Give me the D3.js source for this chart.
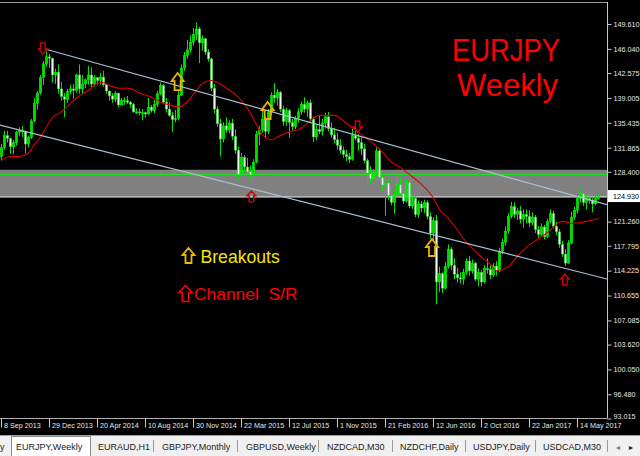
<!DOCTYPE html>
<html><head><meta charset="utf-8">
<script src="https://cdn.jsdelivr.net/npm/d3@7"></script>
<style>body{margin:0;background:#000;overflow:hidden}svg{display:block}</style>
</head><body><svg id="c" width="640" height="456"></svg>
<script>
// ---------- data (EURJPY weekly) ----------
const opens=[130.6,131.9,133.6,133.2,132.0,132.6,134.1,134.3,134.2,132.4,133.3,135.7,138.2,139.7,141.9,143.9,144.9,144.7,142.3,142.7,
140.3,139.2,138.8,139.9,140.3,140.1,142.3,140.3,141.0,141.6,142.3,141.0,141.9,141.5,142.0,140.9,140.0,139.3,138.8,139.7,
138.0,138.6,138.6,138.4,138.1,137.0,137.0,136.9,136.9,136.7,137.7,137.2,138.1,139.6,140.8,138.4,137.4,136.5,135.9,136.1,
139.4,143.3,145.1,145.9,147.0,148.1,148.9,146.9,147.5,145.6,144.6,140.4,137.4,135.3,133.1,135.0,134.4,135.4,133.5,131.5,
128.0,130.5,129.1,128.4,128.0,129.8,133.8,134.4,135.9,134.2,137.0,139.4,139.0,139.8,137.4,135.6,137.2,135.5,134.9,136.1,
137.0,138.1,137.4,138.3,136.0,133.4,134.5,134.2,135.4,136.3,134.6,133.7,133.0,132.2,131.5,130.9,130.6,130.2,133.6,133.2,
132.6,131.7,130.0,128.2,127.4,128.3,131.4,127.6,126.5,126.8,125.0,124.0,125.1,126.6,125.3,124.2,126.9,123.5,124.6,122.3,
123.8,123.2,124.0,122.0,119.6,121.4,112.6,113.8,111.7,114.8,117.3,115.0,113.7,113.2,113.0,114.0,115.6,114.2,115.3,113.0,
114.0,112.6,114.5,114.4,113.6,114.9,114.2,117.0,118.3,119.9,122.0,123.4,122.3,122.8,121.6,122.3,122.0,121.1,121.9,120.1,
119.4,120.5,119.1,121.3,122.4,120.6,119.8,118.0,116.6,115.3,118.2,121.9,122.9,124.6,125.3,124.0,124.6,124.3,123.8,124.6];
const highs=[132.4,134.3,134.3,133.3,133.0,134.3,134.8,135.0,134.3,133.6,136.0,139.0,140.0,142.3,144.3,145.7,145.3,144.8,143.2,143.8,
141.3,139.7,140.3,140.9,141.0,142.5,143.8,142.3,141.8,143.6,143.4,142.3,142.0,142.6,142.9,141.0,140.0,139.7,140.0,139.7,
139.0,139.1,139.3,138.6,138.3,137.5,137.5,137.4,137.0,139.0,138.0,138.7,140.0,141.2,141.0,139.0,138.4,137.0,137.3,140.2,
143.8,145.6,147.3,148.0,149.0,149.8,149.2,148.0,147.6,146.0,144.8,141.0,137.8,136.0,135.5,136.2,135.8,136.0,134.5,132.0,
131.1,130.8,130.4,129.3,130.2,134.3,135.0,137.2,136.3,137.4,139.8,141.1,140.3,140.0,137.9,137.6,137.4,136.0,136.4,137.5,
138.5,139.1,138.6,138.8,136.3,135.2,136.5,136.0,136.9,137.0,135.5,134.7,134.0,133.1,132.0,131.6,131.1,134.6,135.1,133.8,
133.5,132.4,130.3,129.2,128.8,131.9,131.8,128.2,127.0,127.4,126.5,125.7,128.2,127.6,126.3,127.3,127.1,125.0,125.6,124.3,
124.2,124.4,124.3,122.6,121.9,122.2,114.8,114.0,115.5,118.0,117.6,116.0,114.6,114.0,114.5,116.0,116.3,115.8,115.5,114.5,
114.3,115.0,116.0,115.0,115.3,115.6,117.5,118.8,120.6,122.5,124.1,124.0,123.2,123.5,123.0,123.0,122.9,122.6,122.2,120.6,
121.0,120.8,121.7,123.0,122.8,121.2,120.2,118.5,117.3,118.6,122.7,123.4,124.9,125.8,125.6,125.0,125.4,124.7,125.0,125.2];
const lows=[130.0,131.6,132.6,131.0,130.9,132.2,133.5,133.4,131.1,131.9,133.1,135.5,137.3,139.5,140.9,143.5,143.3,141.2,141.0,139.6,
138.6,136.2,138.3,139.5,138.9,139.7,139.6,139.6,140.4,140.9,140.4,140.6,140.9,140.9,140.6,139.6,138.6,138.3,138.4,137.7,
137.9,138.0,138.1,137.6,136.9,136.7,136.5,135.8,136.2,136.6,136.9,136.8,137.7,139.4,138.3,136.9,136.3,134.1,135.5,135.8,
139.3,142.9,144.6,145.5,146.5,147.3,144.0,145.8,145.2,144.2,140.0,136.8,134.9,130.6,132.6,134.0,133.9,133.0,131.0,127.3,
127.7,128.5,127.7,127.4,126.9,129.6,132.2,134.0,133.3,133.8,136.5,138.3,137.9,137.0,135.0,135.0,133.3,134.3,134.5,135.5,
136.6,136.9,136.3,135.6,132.7,133.0,133.8,133.6,134.6,134.2,133.3,132.5,131.6,131.0,130.4,129.9,129.7,130.0,132.9,131.4,
130.8,129.6,127.0,126.8,127.1,127.9,127.3,125.7,122.1,124.4,123.6,122.4,124.7,125.0,123.8,124.0,123.2,123.1,121.9,121.8,
122.6,122.5,121.6,118.8,118.5,109.4,111.2,111.0,111.5,114.5,114.3,113.0,112.5,112.4,112.2,113.6,113.5,113.8,112.7,112.0,
112.0,112.4,113.8,113.0,113.3,113.5,114.0,116.6,117.8,119.5,121.7,121.8,121.5,121.0,120.4,121.0,120.5,120.7,119.6,118.8,
119.1,118.7,118.9,121.0,120.3,119.3,117.5,116.2,114.9,115.2,118.0,121.5,122.4,124.0,123.5,123.0,123.8,122.6,123.6,124.4];
const closes=[131.9,133.6,133.2,132.0,132.6,134.1,134.3,134.2,132.4,133.3,135.7,138.2,139.7,141.9,143.9,144.9,144.7,142.3,142.7,140.3,
139.2,138.8,139.9,140.3,140.1,142.3,140.3,141.0,141.6,142.3,141.0,141.9,141.5,142.0,140.9,140.0,139.3,138.8,139.7,138.0,
138.6,138.6,138.4,138.1,137.0,137.0,136.9,136.9,136.7,137.7,137.2,138.1,139.6,140.8,138.4,137.4,136.5,135.9,136.1,139.4,
143.3,145.1,145.9,147.0,148.1,148.9,146.9,147.5,145.6,144.6,140.4,137.4,135.3,133.1,135.0,134.4,135.4,133.5,131.5,128.0,
130.5,129.1,128.4,128.0,129.8,133.8,134.4,135.9,134.2,137.0,139.4,139.0,139.8,137.4,135.6,137.2,135.5,134.9,136.1,137.0,
138.1,137.4,138.3,136.0,133.4,134.5,134.2,135.4,136.3,134.6,133.7,133.0,132.2,131.5,130.9,130.6,130.2,133.6,133.2,132.6,
131.7,130.0,128.2,127.4,128.3,131.4,127.6,126.5,126.8,125.0,124.0,125.1,126.6,125.3,124.2,126.9,123.5,124.6,122.3,123.8,
123.2,124.0,122.0,119.6,121.4,112.6,113.8,111.7,114.8,117.3,115.0,113.7,113.2,113.0,114.0,115.6,114.2,115.3,113.0,114.0,
112.6,114.5,114.4,113.6,114.9,114.2,117.0,118.3,119.9,122.0,123.4,122.3,122.8,121.6,122.3,122.0,121.1,121.9,120.1,119.4,
120.5,119.1,121.3,122.4,120.6,119.8,118.0,116.6,115.3,118.2,121.9,122.9,124.6,125.3,124.0,124.6,124.3,123.8,124.6,124.93];

// moving average (red), read at sample bars
const maIdx=[0,3,6,9,11,13,15,17,20,22,25,29,32,34,36,39,42,44,46,50,53,56,59,61,64,67,70,72,75,79,
82,85,87,90,92,95,100,103,106,111,114,117,122,126,130,133,136,140,144,146,149,151,155,160,163,165,169,172,175,179,
182,185,187,190,195,199];
const maVal=[130.1,130.6,130.6,131.1,132.3,133.4,134.8,136.2,137.0,137.8,139.0,140.1,141.1,141.2,140.8,140.4,140.4,140.2,139.7,139.1,
138.4,138.0,137.7,138.1,139.5,141.1,141.5,141.2,140.4,139.1,137.5,135.2,133.7,133.0,133.4,134.0,134.7,135.7,136.5,136.5,
135.7,134.7,133.1,131.7,129.8,129.0,128.0,126.6,124.6,123.0,121.7,120.6,118.3,116.2,115.1,114.2,114.8,116.3,117.6,118.8,
119.7,120.9,121.3,121.0,121.3,121.7];

const priceTicks=[149.610,146.040,142.575,139.005,135.435,131.865,128.400,124.930,121.260,117.795,114.225,110.655,107.085,103.620,100.050,96.480,93.015];
const dateTickIdx=[0,16,32,48,64,80,96,112,128,144,160,176,192];
const dateTickLabels=["8 Sep 2013","29 Dec 2013","20 Apr 2014","10 Aug 2014","30 Nov 2014","22 Mar 2015","12 Jul 2015","1 Nov 2015","21 Feb 2016","12 Jun 2016","2 Oct 2016","22 Jan 2017","14 May 2017"];

// drawn objects (bar index, price)
const channelUpper=[[14.5,146.02],[195,124.50]];
const channelLower=[[0,135.06],[195,113.77]];
const zoneTop=128.70, zoneBottom=124.66, zoneLine=128.10, bidPrice=124.93;
const breakoutIdx=[58.7,88.7,143.5], breakoutPrice=[142.72,138.56,118.91];
const resistIdx=[13.8,118.7], resistPrice=[145.16,133.97];
const supportIdx=[83.3,187.8], supportPrice=[125.8,113.89];

const tabLabels=["EURJPY,Weekly","EURAUD,H1","GBPJPY,Monthly","GBPUSD,Weekly","NZDCAD,M30","NZDCHF,Daily","USDJPY,Daily","USDCAD,M30"];

// ---------- drawing ----------
const svg=d3.select('#c');
const FONT='"Liberation Sans", Arial, sans-serif';
svg.append('rect').attr('width',640).attr('height',456).attr('fill','#000');

const plotR=607, plotT=2, plotB=418.5;
const x=d3.scaleLinear().domain([0,199]).range([1.5,598.5]);
const y=d3.scaleLinear().domain([93.015,149.61]).range([418.5,24]);

svg.append('clipPath').attr('id','plot').append('rect').attr('x',0).attr('y',plotT).attr('width',plotR).attr('height',plotB-plotT);
const plot=svg.append('g').attr('clip-path','url(#plot)');

// zone
plot.append('rect').attr('x',0).attr('width',plotR).attr('y',y(zoneTop)).attr('height',y(zoneBottom)-y(zoneTop)).attr('fill','#808080');
plot.append('line').attr('x1',0).attr('x2',plotR).attr('y1',Math.round(y(zoneLine))+0.5).attr('y2',Math.round(y(zoneLine))+0.5).attr('stroke','#22e022').attr('stroke-width',1);
plot.append('line').attr('x1',0).attr('x2',plotR).attr('y1',Math.round(y(bidPrice))+0.5).attr('y2',Math.round(y(bidPrice))+0.5).attr('stroke','#b8b8b8').attr('stroke-width',1);

// candles
const bars=closes.map((c,i)=>({i,o:opens[i],h:highs[i],l:lows[i],c}));
plot.append('g').selectAll('line').data(bars).join('line')
  .attr('x1',d=>x(d.i)).attr('x2',d=>x(d.i)).attr('y1',d=>y(d.h)).attr('y2',d=>y(d.l))
  .attr('stroke','#00e600').attr('stroke-width',1);
plot.append('g').selectAll('rect').data(bars).join('rect')
  .attr('x',d=>x(d.i)-1.2).attr('width',2.4)
  .attr('y',d=>y(Math.max(d.o,d.c))).attr('height',d=>Math.max(1,Math.abs(y(d.o)-y(d.c))))
  .attr('fill',d=>d.c>=d.o?'#00dd00':'#eaffea')
  .attr('stroke',d=>d.c>=d.o?'#00ff00':'#00c800').attr('stroke-width',0.5);

// moving average
const ma=maIdx.map((d,k)=>[d,maVal[k]]);
plot.append('path').datum(ma).attr('fill','none').attr('stroke','#e00000').attr('stroke-width',1.1)
  .attr('d',d3.line().x(d=>x(d[0])).y(d=>y(d[1])).curve(d3.curveMonotoneX));

// channel lines (rays to the right edge)
const iEnd=x.invert(plotR), iStart=x.invert(0);
function ray(a,from){const s=(a[1][1]-a[0][1])/(a[1][0]-a[0][0]);const f=i=>a[0][1]+s*(i-a[0][0]);return [[from,f(from)],[iEnd,f(iEnd)]];}
[[channelUpper,channelUpper[0][0]],[channelLower,iStart]].forEach(([a,from])=>{
  plot.append('path').datum(ray(a,from)).attr('fill','none').attr('stroke','#a9bfd4').attr('stroke-width',1.2)
    .attr('d',d3.line().x(d=>x(d[0])).y(d=>y(d[1])));
});

// arrows
function arrowPath(w,H,h1,dir){ // tip at 0,0 ; dir=1 up-pointing (body below), -1 down-pointing
  const p=[[0,0],[w/2,h1],[w/4,h1],[w/4,H],[-w/4,H],[-w/4,h1],[-w/2,h1]];
  return 'M'+p.map(q=>q[0]+','+(q[1]*dir)).join('L')+'Z';
}
const ann=svg.append('g');
breakoutIdx.forEach((d,k)=>{
  ann.append('path').attr('d',arrowPath(12,17,8,1)).attr('transform',`translate(${x(d)},${y(breakoutPrice[k])+1})`)
    .attr('fill','none').attr('stroke','#f2b400').attr('stroke-width',1.8).attr('stroke-linejoin','miter');
});
resistIdx.forEach((d,k)=>{
  ann.append('path').attr('d',arrowPath(9,11,5,-1)).attr('transform',`translate(${x(d)},${y(resistPrice[k])-1})`)
    .attr('fill','none').attr('stroke','#d40000').attr('stroke-width',1.3);
});
supportIdx.forEach((d,k)=>{
  ann.append('path').attr('d',arrowPath(9,11,5,1)).attr('transform',`translate(${x(d)},${y(supportPrice[k])+1})`)
    .attr('fill','none').attr('stroke','#d40000').attr('stroke-width',1.3);
});

// titles & legend
ann.append('text').attr('x',452).attr('y',61).text('EURJPY').attr('fill','#ff0000')
  .attr('font-family',FONT).attr('font-size',31).attr('textLength',108).attr('lengthAdjust','spacingAndGlyphs');
ann.append('text').attr('x',457).attr('y',96).text('Weekly').attr('fill','#ff0000')
  .attr('font-family',FONT).attr('font-size',31).attr('textLength',101).attr('lengthAdjust','spacingAndGlyphs');
ann.append('path').attr('d',arrowPath(12,15,7,1)).attr('transform','translate(188.5,248)')
  .attr('fill','none').attr('stroke','#f2b400').attr('stroke-width',1.8);
ann.append('text').attr('x',200.5).attr('y',263.3).text('Breakouts').attr('fill','#f5e600')
  .attr('font-family',FONT).attr('font-size',17.6);
ann.append('path').attr('d',arrowPath(13,16,7,1)).attr('transform','translate(185.5,285.5)')
  .attr('fill','none').attr('stroke','#ff0000').attr('stroke-width',1.6);
ann.append('text').attr('x',194).attr('y',299.5).text('Channel  S/R').attr('fill','#ff0000')
  .attr('font-family',FONT).attr('font-size',17.4).style('white-space','pre');

// frame
svg.append('line').attr('x1',0).attr('x2',plotR).attr('y1',plotT+0.5).attr('y2',plotT+0.5).attr('stroke','#9a9a9a');
svg.append('line').attr('x1',0).attr('x2',plotR).attr('y1',plotB).attr('y2',plotB).attr('stroke','#b0b0b0');
svg.append('line').attr('x1',plotR+0.5).attr('x2',plotR+0.5).attr('y1',plotT).attr('y2',plotB).attr('stroke','#c8c8c8');

// price axis
svg.append('g').attr('transform',`translate(${plotR+0.5},0)`)
  .call(d3.axisRight(y).tickValues(priceTicks).tickFormat(d3.format('.3f')).tickSize(4).tickPadding(2))
  .call(g=>{g.select('.domain').remove();
    g.selectAll('line').attr('stroke','#c8c8c8');
    g.selectAll('text').attr('fill','#e6e6e6').attr('font-size',7.2).attr('font-family',FONT);
    g.selectAll('text').filter(d=>d===priceTicks[priceTicks.length-1]).attr('dy','0.05em');});
// current price label
svg.append('rect').attr('x',plotR+1).attr('y',y(bidPrice)-6).attr('width',33).attr('height',12).attr('fill','#ffffff');
svg.append('text').attr('x',plotR+6).attr('y',y(bidPrice)).attr('dy','0.35em').text(d3.format('.3f')(bidPrice))
  .attr('fill','#000').attr('font-size',7.2).attr('font-family',FONT);

// time axis
svg.append('g').attr('transform',`translate(0,${plotB})`)
  .call(d3.axisBottom(x).tickValues(dateTickIdx).tickFormat((d,k)=>dateTickLabels[k]).tickSize(9).tickPadding(0))
  .call(g=>{g.select('.domain').remove();
    g.selectAll('line').attr('stroke','#c8c8c8').attr('transform','translate(-0.5,0)');
    g.selectAll('text').attr('text-anchor','start').attr('x',2).attr('y',4).attr('dy','0.71em')
      .attr('fill','#e6e6e6').attr('font-size',7.2).attr('font-family',FONT);});

// tab bar
const tabs=svg.append('g');
tabs.append('rect').attr('x',0).attr('y',435).attr('width',640).attr('height',21).attr('fill','#f0f0f0');
tabs.append('line').attr('x1',0).attr('x2',640).attr('y1',435.5).attr('y2',435.5).attr('stroke','#a0a0a0');
tabs.append('rect').attr('x',11.5).attr('y',436.5).attr('width',79).attr('height',20).attr('fill','#ffffff').attr('stroke','#8a8a8a');
const tabX=[16,98,162,246,327,400,473,543];
const sepX=[153,237,318,392,465,535,607];
tabs.append('text').attr('x',0).attr('y',450).text('y').attr('font-size',9).attr('font-family',FONT).attr('fill','#222');
tabs.selectAll('text.t').data(tabLabels).join('text').attr('class','t')
  .attr('x',(d,k)=>tabX[k]).attr('y',450).text(d=>d).attr('font-size',9).attr('font-family',FONT).attr('fill','#222');
tabs.selectAll('line.s').data(sepX).join('line').attr('class','s')
  .attr('x1',d=>d+0.5).attr('x2',d=>d+0.5).attr('y1',440).attr('y2',452).attr('stroke','#9a9a9a');
tabs.append('text').attr('x',616).attr('y',450).text('◂').attr('font-size',8).attr('font-family','DejaVu Sans').attr('fill','#777');
tabs.append('text').attr('x',629).attr('y',450).text('▸').attr('font-size',8).attr('font-family','DejaVu Sans').attr('fill','#222');
</script></body></html>
